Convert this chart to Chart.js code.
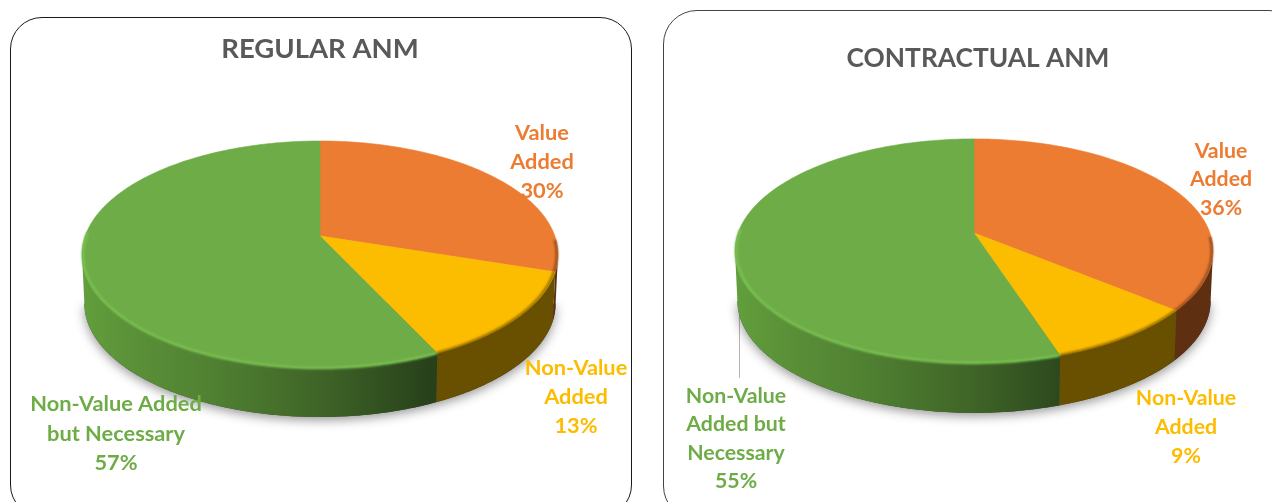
<!DOCTYPE html>
<html>
<head>
<meta charset="utf-8">
<script src="https://cdn.jsdelivr.net/npm/chart.js@4/dist/chart.umd.min.js"></script>
<style>
html,body{margin:0;padding:0;background:#fff;width:1272px;height:502px;overflow:hidden}
.panel{position:absolute;background:#fff;box-sizing:border-box}
canvas{position:absolute;top:0}
</style>
</head>
<body>
<div class="panel" style="left:10px;top:17px;width:622px;height:500px;border:1.3px solid #1a1a1a;border-radius:32px"></div>
<div class="panel" style="left:663px;top:10px;width:640px;height:510px;border:1.3px solid #444;border-radius:34px"></div>
<canvas id="left" style="left:0" width="640" height="502"></canvas>
<canvas id="right" style="left:684px" width="588" height="502"></canvas>
<script>
const categories = ["Value Added", "Non-Value Added", "Non-Value Added but Necessary"];
const regularValues = [30, 13, 57];
const contractualValues = [36, 9, 55];
const regularTitle = "REGULAR ANM";
const contractualTitle = "CONTRACTUAL ANM";
const regularLabelLines = [["Value", "Added"], ["Non-Value", "Added"], ["Non-Value Added", "but Necessary"]];
const contractualLabelLines = [["Value", "Added"], ["Non-Value", "Added"], ["Non-Value", "Added but", "Necessary"]];

const topColors = ["#ec7c31", "#fcbc00", "#6eac47"];
const rimColors = ["rgba(110,55,20,.7)", "rgba(110,80,0,.75)", "#79c051"];
const FONT = "Lato";
const DEG = Math.PI / 180;

function wallFill(ctx, g, i) {
  if (i === 0) return "#5f2f12";
  if (i === 1) return "#685000";
  const l = g.cx - g.rx, w = 2 * g.rx;
  const gr = ctx.createLinearGradient(l, 0, l + w, 0);
  gr.addColorStop(0, "#629f3c");
  gr.addColorStop(0.1, "#5b9138");
  gr.addColorStop(0.27, "#508132");
  gr.addColorStop(0.5, "#3f6427");
  gr.addColorStop(0.74, "#26401a");
  gr.addColorStop(1, "#26401a");
  return gr;
}

// Perspective projection of a unit-circle angle (clockwise from 12 o'clock) to the canvas.
function project(g, theta, down, shrink) {
  const x = Math.sin(theta), y = -Math.cos(theta), w = 1 - g.k * y;
  const A = g.rx * Math.sqrt(1 - g.k * g.k), S = g.ry * (1 - g.k * g.k);
  return [g.cx + A * x / w * (shrink || 1), g.ay + S * y / w + (down || 0)];
}
function rimPath(ctx, g, a0, a1, down, shrink, move) {
  const n = Math.max(2, Math.ceil(Math.abs(a1 - a0) / DEG));
  for (let i = 0; i <= n; i++) {
    const p = project(g, a0 + (a1 - a0) * i / n, down, shrink);
    if (i === 0 && move) ctx.moveTo(p[0], p[1]); else ctx.lineTo(p[0], p[1]);
  }
}

const pie3d = {
  id: "pie3d",
  beforeDatasetsDraw(chart, args, opts) {
    const ctx = chart.ctx, g = opts.geom;
    const arcs = chart.getDatasetMeta(0).data;
    const ang = arcs.map(a => [a.startAngle + Math.PI / 2, a.endAngle + Math.PI / 2]);
    // silhouette of the projected circle: the widest points sit where cos(theta) = -k
    const frontA = Math.acos(-g.k), frontB = 2 * Math.PI - frontA;

    if (opts.leader) {
      ctx.save();
      ctx.strokeStyle = "#b5b5b5"; ctx.lineWidth = 1;
      ctx.beginPath(); ctx.moveTo(opts.leader[0] + .5, opts.leader[1]); ctx.lineTo(opts.leader[0] + .5, opts.leader[2]); ctx.stroke();
      ctx.restore();
    }

    // soft ground shadow
    ctx.save();
    ctx.shadowColor = "rgba(0,0,0,.42)"; ctx.shadowBlur = 11; ctx.shadowOffsetY = 3;
    ctx.fillStyle = "#444";
    ctx.beginPath();
    rimPath(ctx, g, frontA, frontB, g.depth, .99, true);
    ctx.closePath(); ctx.fill();
    ctx.restore();

    // side walls
    ang.forEach((a, i) => {
      const s = Math.max(a[0], frontA), e = Math.min(a[1], frontB);
      if (e <= s) return;
      ctx.beginPath();
      rimPath(ctx, g, s, e, 0, 1, true);
      rimPath(ctx, g, e, s, g.depth, .99, false);
      ctx.closePath();
      ctx.fillStyle = wallFill(ctx, g, i);
      ctx.fill();
    });

    // top faces
    ang.forEach((a, i) => {
      ctx.beginPath();
      ctx.moveTo(g.cx, g.ay);
      rimPath(ctx, g, a[0], a[1], 0, 1, false);
      ctx.closePath();
      ctx.fillStyle = topColors[i];
      ctx.strokeStyle = topColors[i];
      ctx.lineWidth = .6;
      ctx.fill(); ctx.stroke();
    });

    // bevel along the visible rim
    ang.forEach((a, i) => {
      const s = Math.max(a[0], 92 * DEG), e = Math.min(a[1], 272 * DEG);
      if (e <= s) return;
      ctx.save();
      ctx.filter = "blur(1px)";
      ctx.beginPath();
      rimPath(ctx, g, s, e, 0, .995, true);
      ctx.strokeStyle = rimColors[i];
      ctx.lineWidth = 2.6;
      ctx.stroke();
      ctx.restore();
    });
    return false; // the arcs were painted above from the library's own elements
  },
  afterDraw(chart, args, opts) {
    const ctx = chart.ctx, vals = chart.data.datasets[0].data;
    ctx.save();
    ctx.font = "bold " + opts.labelSize + "px " + FONT;
    ctx.textAlign = "center"; ctx.textBaseline = "middle";
    opts.labels.forEach((lab, i) => {
      ctx.fillStyle = topColors[i];
      const lines = opts.lines[i].concat([vals[i] + "%"]);
      lines.forEach((t, j) => ctx.fillText(t, lab.x, lab.y + j * lab.step));
    });
    ctx.restore();
  }
};

function make(id, values, title, lines, geom, labels, leader, titleTop, titleSize, labelSize) {
  return new Chart(document.getElementById(id), {
    type: "pie",
    data: { labels: categories, datasets: [{ data: values, backgroundColor: topColors, borderWidth: 0 }] },
    plugins: [pie3d],
    options: {
      responsive: false, animation: false,
      events: [],
      layout: { padding: 0 },
      plugins: {
        legend: { display: false },
        tooltip: { enabled: false },
        title: { display: true, text: title, color: "#595959",
                 font: { family: FONT, size: titleSize, weight: "bold" },
                 padding: { top: titleTop, bottom: 0 } },
        pie3d: { geom, labels, lines, leader, labelSize }
      }
    }
  });
}

make("left", regularValues, regularTitle, regularLabelLines,
  { cx: 320, ay: 236, rx: 238, ry: 113.5, k: 0.163, depth: 49 },
  [{ x: 542, y: 133, step: 29 }, { x: 576, y: 368, step: 29 }, { x: 116, y: 404, step: 29.5 }],
  null, 33, 27.5, 21.8);

make("right", contractualValues, contractualTitle, contractualLabelLines,
  { cx: 974 - 684, ay: 233, rx: 239, ry: 112, k: 0.16, depth: 50 },
  [{ x: 1221 - 684, y: 151, step: 28.5 }, { x: 1186 - 684, y: 398, step: 29 }, { x: 736 - 684, y: 396, step: 28.5 }],
  [739 - 684, 290, 378], 43, 26.3, 21.3);
</script>
</body>
</html>
